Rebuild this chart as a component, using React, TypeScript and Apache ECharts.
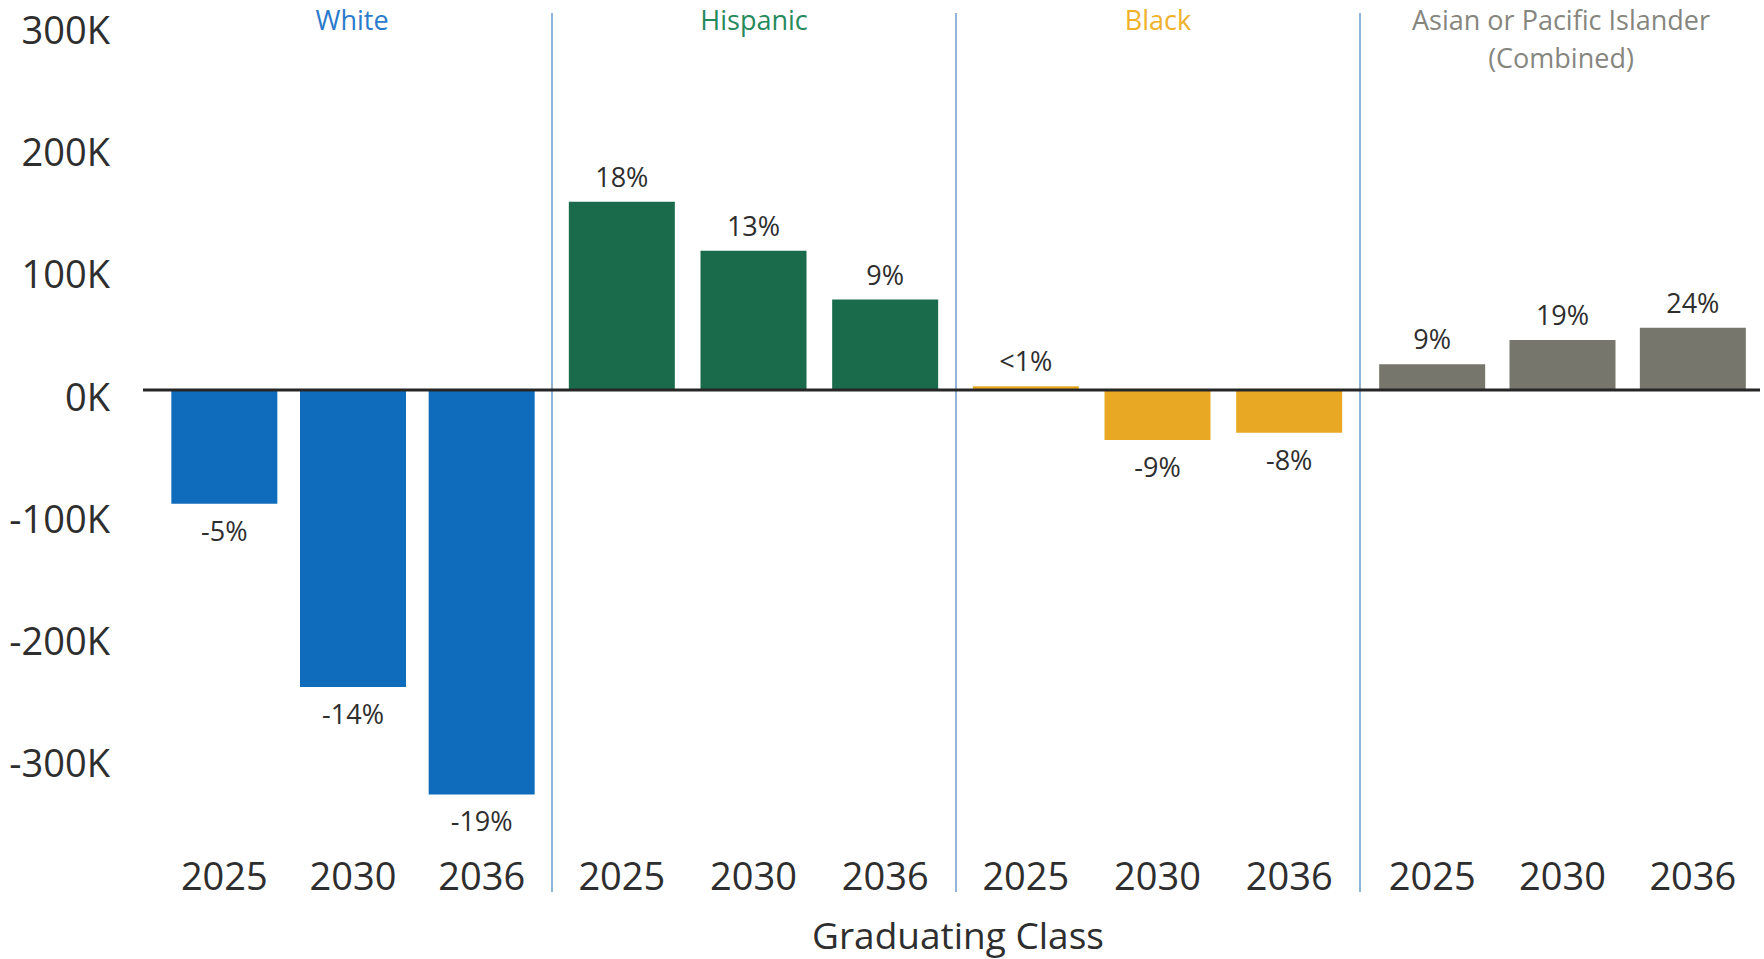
import React, { useEffect, useRef } from "react";
import * as echarts from "echarts";

// ---- data ----
const groupNames = ["White", "Hispanic", "Black", "Asian or Pacific Islander\n(Combined)"];
const years = ["2025", "2030", "2036"];
const whiteValues = [-93000, -243000, -331000];
const hispanicValues = [154000, 114000, 74000];
const blackValues = [3000, -41000, -35000];
const asianValues = [21000, 41000, 51000];
const whiteLabels = ["-5%", "-14%", "-19%"];
const hispanicLabels = ["18%", "13%", "9%"];
const blackLabels = ["<1%", "-9%", "-8%"];
const asianLabels = ["9%", "19%", "24%"];
const yMin = -400000;
const yMax = 300000;
const yStep = 100000;
const xAxisTitle = "Graduating Class";

// ---- styles / layout ----
const barColors = ["#0f6cbd", "#1a6b4b", "#e8a823", "#76766d"];
const titleColors = ["#2b7bcc", "#268a5c", "#efb12a", "#86867f"];
const textColor = "#2e2e2e";
const font = "'Open Sans', 'Noto Sans', sans-serif";
const W = 1764;
const H = 959;
const gridSpans = [
  [160, 546],
  [556, 951],
  [960, 1355],
  [1367, 1758],
];
const separators = [552, 956, 1360];
const groupCenters = [352, 754, 1158, 1561];
const baselineLeft = 143;
const baselineRight = 1760;
const gridTop = 23.4;
const gridBottomY = 878.8;

export default function App() {
  const ref = useRef<HTMLDivElement>(null);
  useEffect(() => {
    if (!ref.current) return;
    const chart = echarts.init(ref.current, null, { renderer: "svg" });
    const values = [whiteValues, hispanicValues, blackValues, asianValues];
    const labels = [whiteLabels, hispanicLabels, blackLabels, asianLabels];

    const grids = groupNames.map((_, i) => ({
      left: gridSpans[i][0],
      width: gridSpans[i][1] - gridSpans[i][0],
      top: gridTop,
      height: gridBottomY - gridTop,
      containLabel: false,
    }));
    const xAxes = groupNames.map((_, i) => ({
      type: "category",
      gridIndex: i,
      data: years,
      position: "bottom",
      offset: -29,
      axisLine: { show: false },
      axisTick: { show: false },
      axisLabel: { fontSize: 38, color: textColor, fontFamily: font, margin: 6 },
    }));
    const yAxes = groupNames.map((_, i) => ({
      type: "value",
      gridIndex: i,
      min: yMin,
      max: yMax,
      interval: yStep,
      splitLine: { show: false },
      axisLine: { show: false },
      axisTick: { show: false },
      axisLabel: {
        show: i === 0,
        fontSize: 38,
        color: textColor,
        fontFamily: font,
        margin: 50,
        verticalAlign: "top",
        lineHeight: 11,
        formatter: (v: number) => (v === yMin ? "" : `${v / 1000}K`),
      },
    }));
    const series = groupNames.map((name, i) => ({
      type: "bar",
      name,
      xAxisIndex: i,
      yAxisIndex: i,
      barWidth: 106,
      itemStyle: { color: barColors[i] },
      data: values[i].map((v) => ({
        value: v,
        label: { position: v < 0 ? "bottom" : "top", distance: v < 0 ? 13 : 12 },
      })),
      label: {
        show: true,
        fontSize: 27,
        color: textColor,
        fontFamily: font,
        formatter: (p: any) => labels[i][p.dataIndex],
      },
    }));

    const titleGraphics: any[] = [];
    separators.forEach((x) => {
      titleGraphics.push({
        type: "line",
        shape: { x1: x, y1: 13, x2: x, y2: 892 },
        style: { stroke: "#6b9ccb", lineWidth: 1.5 },
        z: 10,
      });
    });
    groupNames.forEach((name, i) => {
      titleGraphics.push({
        type: "text",
        x: groupCenters[i],
        y: 0,
        style: {
          text: name,
          fill: titleColors[i],
          fontSize: 27,
          fontFamily: font,
          lineHeight: 38,
          align: "center",
          verticalAlign: "top",
        },
      });
    });
    titleGraphics.push({
      type: "text",
      x: 958,
      y: 934,
      style: {
        text: xAxisTitle,
        fill: textColor,
        fontSize: 37,
        fontFamily: font,
        align: "center",
        verticalAlign: "middle",
      },
    });

    chart.setOption({
      animation: false,
      backgroundColor: "#ffffff",
      grid: grids,
      xAxis: xAxes,
      yAxis: yAxes,
      series,
      graphic: titleGraphics,
    });

    // zero baseline across all groups, placed via the value axis scale
    const zeroY = chart.convertToPixel({ yAxisIndex: 0 }, 0) as number;
    chart.setOption({
      graphic: [
        ...titleGraphics,
        {
          type: "line",
          shape: { x1: baselineLeft, y1: zeroY, x2: baselineRight, y2: zeroY },
          style: { stroke: "#262626", lineWidth: 3 },
          z: 100,
        },
      ],
    });
    return () => chart.dispose();
  }, []);
  return (
    <div
      ref={ref}
      style={{ position: "fixed", left: 0, top: 0, width: W, height: H, background: "#fff" }}
    />
  );
}
